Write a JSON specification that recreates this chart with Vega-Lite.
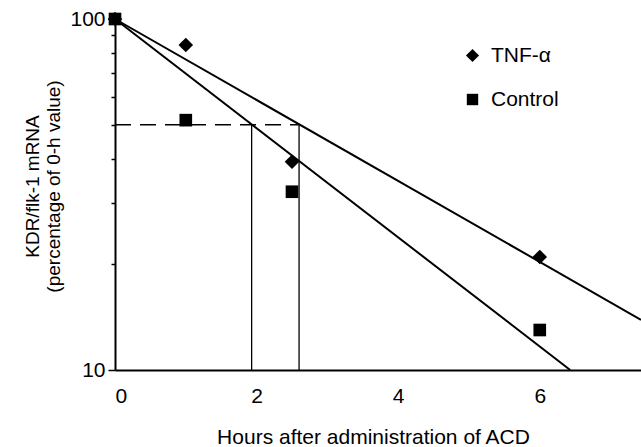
{
  "$schema": "https://vega.github.io/schema/vega-lite/v6.json",
  "width": 526,
  "height": 351,
  "autosize": {"type": "none"},
  "padding": {"left": 115, "top": 19, "right": 0, "bottom": 77},
  "background": "white",
  "config": {
    "view": {"stroke": null},
    "font": "Liberation Sans",
    "axis": {"labelColor": "black", "titleColor": "black", "domainColor": "black", "tickColor": "black", "grid": false, "titleFontWeight": "normal", "labelFont": "Liberation Sans", "titleFont": "Liberation Sans"},
    "legend": {"labelFont": "Liberation Sans"}
  },
  "datasets": {
    "points": [
      {"series": "TNF-α", "hours": 0, "pct": 100},
      {"series": "TNF-α", "hours": 1, "pct": 84.3},
      {"series": "TNF-α", "hours": 2.5, "pct": 39.2},
      {"series": "TNF-α", "hours": 6, "pct": 21},
      {"series": "Control", "hours": 0, "pct": 100},
      {"series": "Control", "hours": 1, "pct": 51.5},
      {"series": "Control", "hours": 2.5, "pct": 32.2},
      {"series": "Control", "hours": 6, "pct": 13}
    ],
    "fits": [
      {"series": "TNF-α", "hours": 0, "pct": 100},
      {"series": "TNF-α", "hours": 7.43, "pct": 13.9},
      {"series": "Control", "hours": 0, "pct": 100},
      {"series": "Control", "hours": 6.43, "pct": 10}
    ],
    "halfline": [
      {"x": 0, "x2": 2.6, "y": 50}
    ],
    "verticals": [
      {"x": 1.93, "y": 10, "y2": 50},
      {"x": 2.6, "y": 10, "y2": 50}
    ]
  },
  "layer": [
    {
      "data": {"name": "halfline"},
      "mark": {"type": "rule", "color": "black", "strokeWidth": 1.5, "strokeDash": [16, 9]},
      "encoding": {
        "x": {"field": "x", "type": "quantitative", "scale": {"domain": [0, 7.43], "nice": false, "zero": false}},
        "x2": {"field": "x2"},
        "y": {"field": "y", "type": "quantitative", "scale": {"type": "log", "domain": [10, 100], "nice": false}}
      }
    },
    {
      "data": {"name": "verticals"},
      "mark": {"type": "rule", "color": "black", "strokeWidth": 1.3},
      "encoding": {
        "x": {"field": "x", "type": "quantitative"},
        "y": {"field": "y", "type": "quantitative"},
        "y2": {"field": "y2"}
      }
    },
    {
      "data": {"name": "fits"},
      "mark": {"type": "line", "color": "black", "strokeWidth": 2},
      "encoding": {
        "x": {"field": "hours", "type": "quantitative"},
        "y": {"field": "pct", "type": "quantitative"},
        "detail": {"field": "series", "type": "nominal"}
      }
    },
    {
      "data": {"name": "points"},
      "mark": {"type": "point", "filled": true, "color": "black", "opacity": 1, "size": 160},
      "encoding": {
        "x": {
          "field": "hours", "type": "quantitative",
          "axis": {
            "values": [0, 2, 4, 6], "format": "d", "ticks": false, "domainWidth": 2,
            "labelFontSize": 21, "labelPadding": 15,
            "title": "Hours after administration of ACD", "titleFontSize": 21,
            "titleX": 258, "titleY": 73, "titleBaseline": "alphabetic", "titleAlign": "center"
          }
        },
        "y": {
          "field": "pct", "type": "quantitative",
          "axis": {
            "values": [10, 20, 30, 40, 50, 60, 70, 80, 90, 100],
            "labelExpr": "datum.value == 10 || datum.value == 100 ? datum.label : ''",
            "tickSize": {"condition": {"test": "datum.value == 10 || datum.value == 100", "value": 7}, "value": 4},
            "tickWidth": 1.5, "domainWidth": 2,
            "labelFontSize": 21, "labelPadding": 3,
            "title": ["KDR/flk-1 mRNA", "(percentage of 0-h value)"],
            "titleFontSize": 19, "titleLineHeight": 21,
            "titleX": -73, "titleY": 167, "titleBaseline": "bottom", "titleAlign": "center", "titleAngle": -90
          }
        },
        "shape": {
          "field": "series", "type": "nominal",
          "scale": {"domain": ["TNF-α", "Control"], "range": ["M-1.15,0L0,-1.15L1.15,0L0,1.15Z", "square"]},
          "legend": {
            "orient": "none", "legendX": 347, "legendY": 26, "title": null,
            "padding": 0, "labelFontSize": 21, "labelColor": "black",
            "symbolSize": 130, "symbolFillColor": "black", "symbolStrokeColor": "black", "symbolOpacity": 1,
            "rowPadding": 22, "labelOffset": 8
          }
        }
      }
    }
  ]
}
